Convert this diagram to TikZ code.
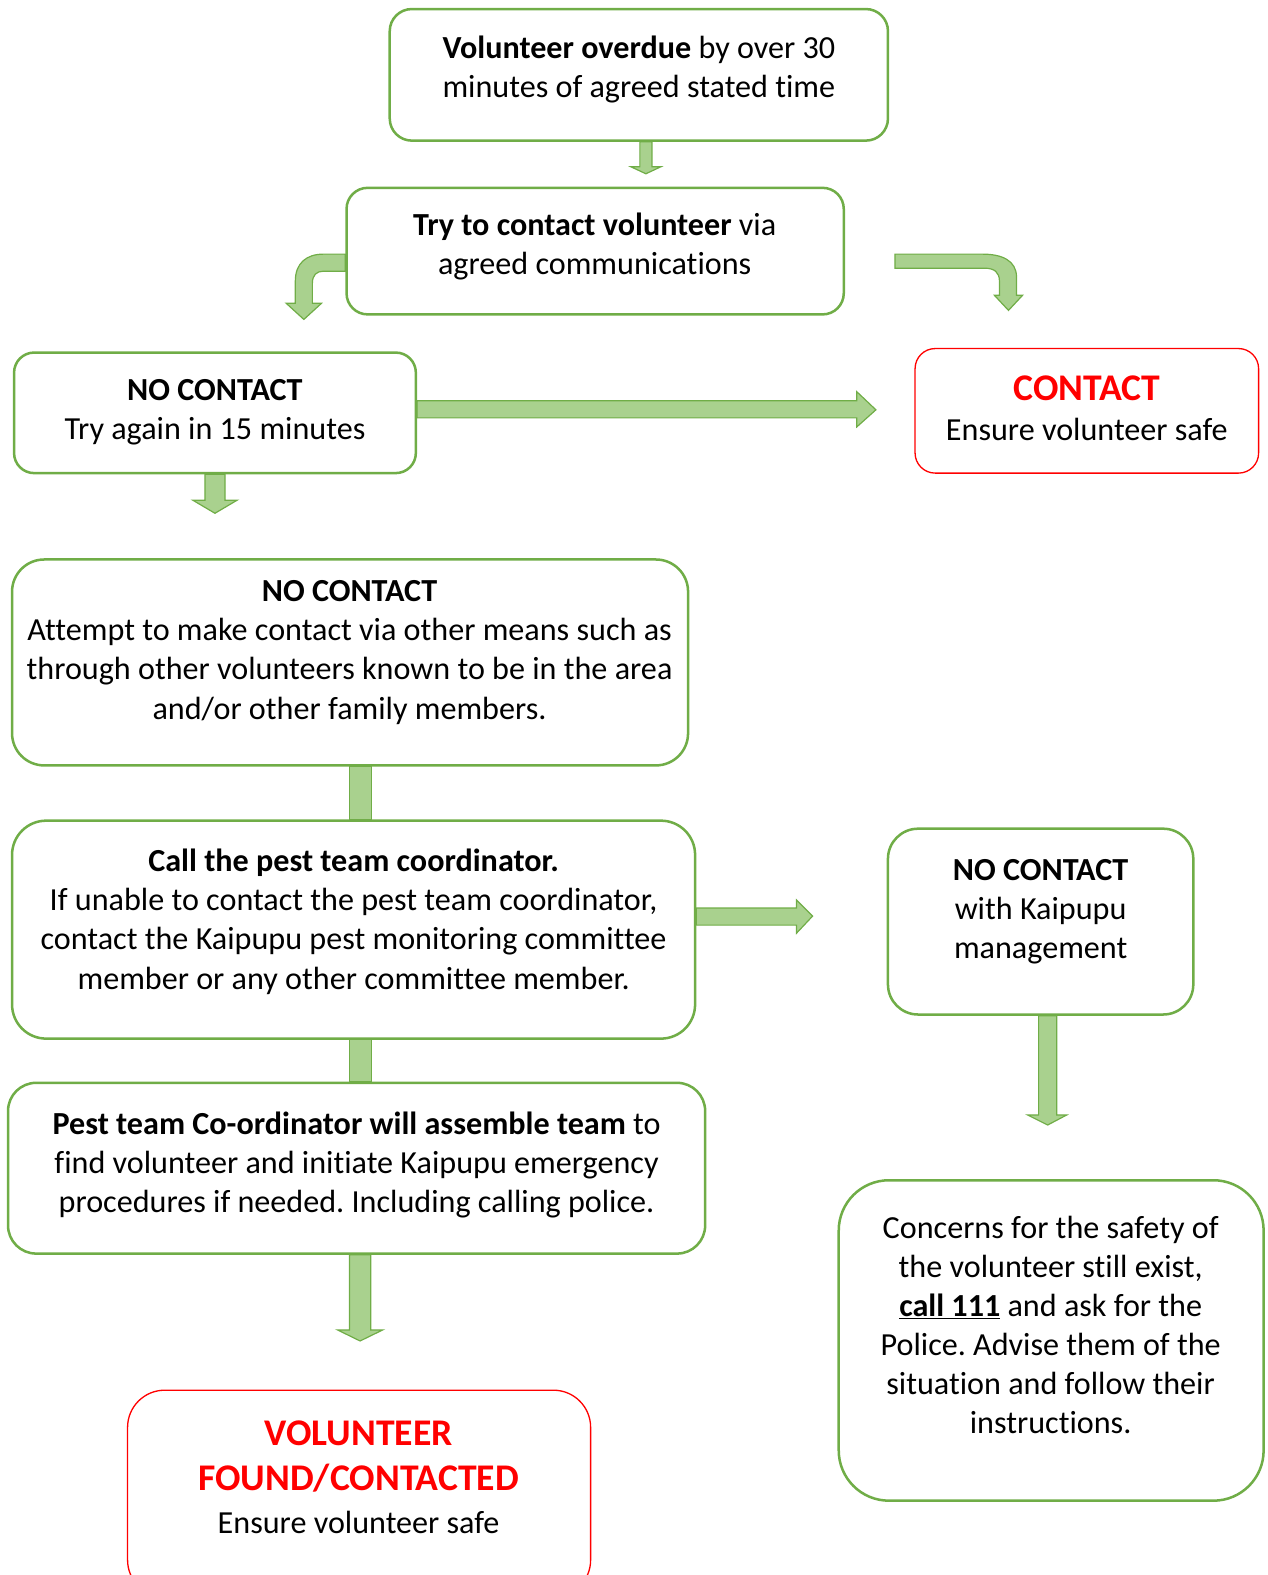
\documentclass[tikz,border=0pt]{standalone}
\usepackage{fontspec}
\setmainfont[Ligatures={NoCommon}]{Carlito}
\usetikzlibrary{calc,backgrounds}
\definecolor{grn}{HTML}{70AD47}
\definecolor{arr}{HTML}{A9D18E}
\definecolor{redb}{HTML}{FF0000}
\newcommand\myredbig{\fontsize{37.5}{45}\selectfont\bfseries\color{redb}}
\frenchspacing
\begin{document}
\begin{tikzpicture}[x=1pt,y=-1pt,
 box/.style={draw=grn, line width=2.5pt, rounded corners=#1, fill=white, inner sep=0pt},
 rbox/.style={draw=redb, line width=1.3pt, rounded corners=#1, fill=white, inner sep=0pt},
 txt/.style={align=center, font=\fontsize{32}{39}\selectfont, inner sep=0pt},
 fat/.style={fill=arr, draw=grn, line width=1.2pt, line join=miter}]
\clip (0,0) rectangle (1262,1568);
\useasboundingbox (0,0) rectangle (1262,1568);

% boxes
\node[box=22pt, minimum width=496pt, minimum height=131pt] (b1) at (636,74.5) {};
\node[box=21pt, minimum width=495pt, minimum height=126pt] (b2) at (592.5,250) {};
\node[box=20pt, minimum width=400pt, minimum height=120pt] (b3) at (214,411) {};
\node[rbox=20pt, minimum width=342pt, minimum height=124pt] (b4) at (1082,409) {};
\node[box=32pt, minimum width=673pt, minimum height=205pt] (b5) at (348.5,659.5) {};
\node[box=34pt, minimum width=680pt, minimum height=217pt] (b6) at (352,925.5) {};
\node[box=30pt, minimum width=304pt, minimum height=185pt] (b7) at (1036,917.5) {};
\node[box=28pt, minimum width=694pt, minimum height=170pt] (b8) at (355,1163) {};
\node[rbox=37pt, minimum width=461pt, minimum height=206pt] (b9) at (357.5,1487) {};
\node[box=50pt, minimum width=423pt, minimum height=319pt] (b10) at (1046.5,1334.5) {};

% texts
\node[txt] (t1) at (636,69) {\textbf{Volunteer overdue} by over 30\\minutes of agreed stated time};
\node[txt] (t2) at (592,245.5) {\textbf{Try to contact volunteer} via\\agreed communications};
\node[txt] (t3) at (214,410.5) {\textbf{NO CONTACT}\\Try again in 15 minutes};
\node[txt] (t4) at (1082,406.5) {{\myredbig CONTACT}\\[1pt]Ensure volunteer safe};
\node[txt] (t5) at (348,649.5) {\textbf{NO CONTACT}\\Attempt to make contact via other means such as\\through other volunteers known to be in the area\\and/or other family members.};
\node[txt] (t6) at (352,917.5) {\textbf{Call the pest team coordinator.}\\If unable to contact the pest team coordinator,\\contact the Kaipupu pest monitoring committee\\member or any other committee member.};
\node[txt] (t7) at (1036,907.5) {\textbf{NO CONTACT}\\with Kaipupu\\management};
\node[txt] (t8) at (355,1159.5) {\textbf{Pest team Co-ordinator will assemble team} to\\find volunteer and initiate Kaipupu emergency\\procedures if needed. Including calling police.};
\node[txt] (t9) at (357,1470.5) {{\myredbig VOLUNTEER}\\[6pt]{\myredbig FOUND/CONTACTED}\\[3pt]Ensure volunteer safe};
\node[txt] (t10) at (1046,1319) {Concerns for the safety of\\the volunteer still exist,\\\textbf{\underline{call 111}} and ask for the\\Police. Advise them of the\\situation and follow their\\instructions.};

% block arrows
\begin{scope}[on background layer]
% b1 -> b2
\draw[fat] (637,0 |- b1.south) -- (637,166) -- (628,166) -- (643,173) -- (658,166) -- (649,166) -- (649,0 |- b1.south) -- cycle;
% b2 -> b3 (bent left)
\draw[fat] (b2.west |- 0,253) -- (322,253) .. controls (305,253) and (294,262) .. (294,280) -- (294,302) -- (285,302) -- (302.5,318) -- (320,302) -- (311,302) -- (311,282) .. controls (311,274) and (315,270) .. (322,270) -- (b2.west |- 0,270) -- cycle;
% b2 -> b4 (bent right)
\draw[fat] (891,253) -- (978,253) .. controls (997,253) and (1012,259) .. (1012,276) -- (1012,294) -- (1018,294) -- (1004,309) -- (990,294) -- (995,294) -- (995,280) .. controls (995,271) and (990,267) .. (980,267) -- (891,267) -- cycle;
% b3 -> b4
\draw[fat] (b3.east |- 0,399) -- (853,399) -- (853,390) -- (872,408) -- (853,425) -- (853,416) -- (b3.east |- 0,416) -- cycle;
% b3 -> b5
\draw[fat] (204,0 |- b3.south) -- (204,498) -- (192,498) -- (214,511) -- (236,498) -- (224,498) -- (224,0 |- b3.south) -- cycle;
% b5 -> b6
\draw[fat] (348,0 |- b5.south) rectangle (370,0 |- b6.north);
% b6 -> b8
\draw[fat] (348,0 |- b6.south) rectangle (370,0 |- b8.north);
% b6 -> b7
\draw[fat] (b6.east |- 0,904) -- (793,904) -- (793,896) -- (809,912) -- (793,929) -- (793,921) -- (b6.east |- 0,921) -- cycle;
% b7 -> b10
\draw[fat] (1034,0 |- b7.south) -- (1034,1110) -- (1023,1110) -- (1043,1120) -- (1062,1110) -- (1052,1110) -- (1052,0 |- b7.south) -- cycle;
% b8 -> b9
\draw[fat] (348,0 |- b8.south) -- (348,1324) -- (336,1324) -- (358.5,1335) -- (381,1324) -- (369,1324) -- (369,0 |- b8.south) -- cycle;
\end{scope}
\end{tikzpicture}
\end{document}
